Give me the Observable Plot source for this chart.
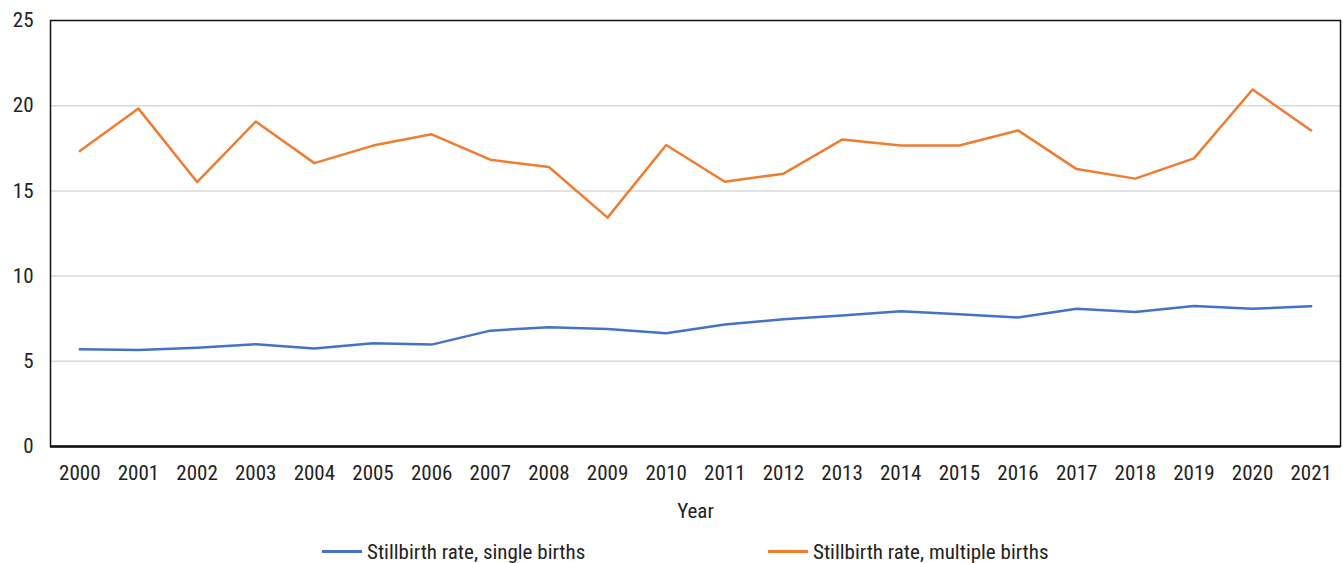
<!DOCTYPE html>
<html>
<head>
<meta charset="utf-8">
<script src="https://cdn.jsdelivr.net/npm/d3@7"></script>
<script src="https://cdn.jsdelivr.net/npm/@observablehq/plot@0.6"></script>
<style>
  body { margin: 0; background: #fff; font-family: "Roboto Condensed", Roboto, sans-serif; }
  #legend { position: relative; width: 1343px; height: 33px; font-size: 21px; color: #222; }
  .item { position: absolute; top: 5px; height: 33px; display: flex; align-items: center; }
  .sw { width: 40px; height: 3px; margin-right: 5px; }
</style>
</head>
<body>
<div id="chart"></div>
<div id="legend"></div>
<script>
const years = ["2000","2001","2002","2003","2004","2005","2006","2007","2008","2009","2010","2011","2012","2013","2014","2015","2016","2017","2018","2019","2020","2021"];
const singleBirths = [5.70,5.67,5.80,6.00,5.75,6.06,5.98,6.80,7.00,6.90,6.65,7.16,7.47,7.69,7.94,7.76,7.57,8.08,7.90,8.25,8.08,8.23];
const multipleBirths = [17.34,19.83,15.52,19.07,16.63,17.66,18.32,16.83,16.40,13.43,17.69,15.54,16.01,18.01,17.67,17.66,18.55,16.28,15.72,16.91,20.95,18.55];
const seriesNames = ["Stillbirth rate, single births", "Stillbirth rate, multiple births"];
const colors = ["#4472C4", "#ED7D31"];
const yTicks = [0,5,10,15,20,25];

const data = [];
years.forEach((y, i) => {
  data.push({year: y, value: singleBirths[i], series: seriesNames[0]});
  data.push({year: y, value: multipleBirths[i], series: seriesNames[1]});
});

const chart = Plot.plot({
  width: 1343,
  height: 530,
  marginLeft: 50,
  marginRight: 3,
  marginTop: 20,
  marginBottom: 84,
  style: {fontFamily: '"Roboto Condensed", Roboto, sans-serif', fontSize: "21px", color: "#222", background: "#fff"},
  x: {type: "point", domain: years, padding: 0.5, round: false},
  y: {domain: [0, 25]},
  color: {domain: seriesNames, range: colors},
  marks: [
    Plot.gridY([5,10,15,20], {stroke: "#d9d9d9", strokeOpacity: 1, strokeWidth: 1.5}),
    Plot.axisY(yTicks, {tickSize: 0, tickPadding: 17, label: null, fontSize: 21}),
    Plot.axisX({tickSize: 0, tickPadding: 19, label: null, fontSize: 21}),
    Plot.frame({stroke: "#111", strokeWidth: 1.5}),
    Plot.ruleY([0], {stroke: "#111", strokeWidth: 2.5}),
    Plot.line(data, {x: "year", y: "value", z: "series", stroke: "series", strokeWidth: 2.5}),
    Plot.text(["Year"], {frameAnchor: "bottom", dy: 71, fontSize: 21, fill: "#222"})
  ]
});
document.getElementById("chart").appendChild(chart);

const legend = document.getElementById("legend");
const lefts = [322, 768];
seriesNames.forEach((name, i) => {
  const it = document.createElement("div");
  it.className = "item";
  it.style.left = lefts[i] + "px";
  it.innerHTML = `<span class="sw" style="background:${colors[i]}"></span><span>${name}</span>`;
  legend.appendChild(it);
});
</script>
</body>
</html>
